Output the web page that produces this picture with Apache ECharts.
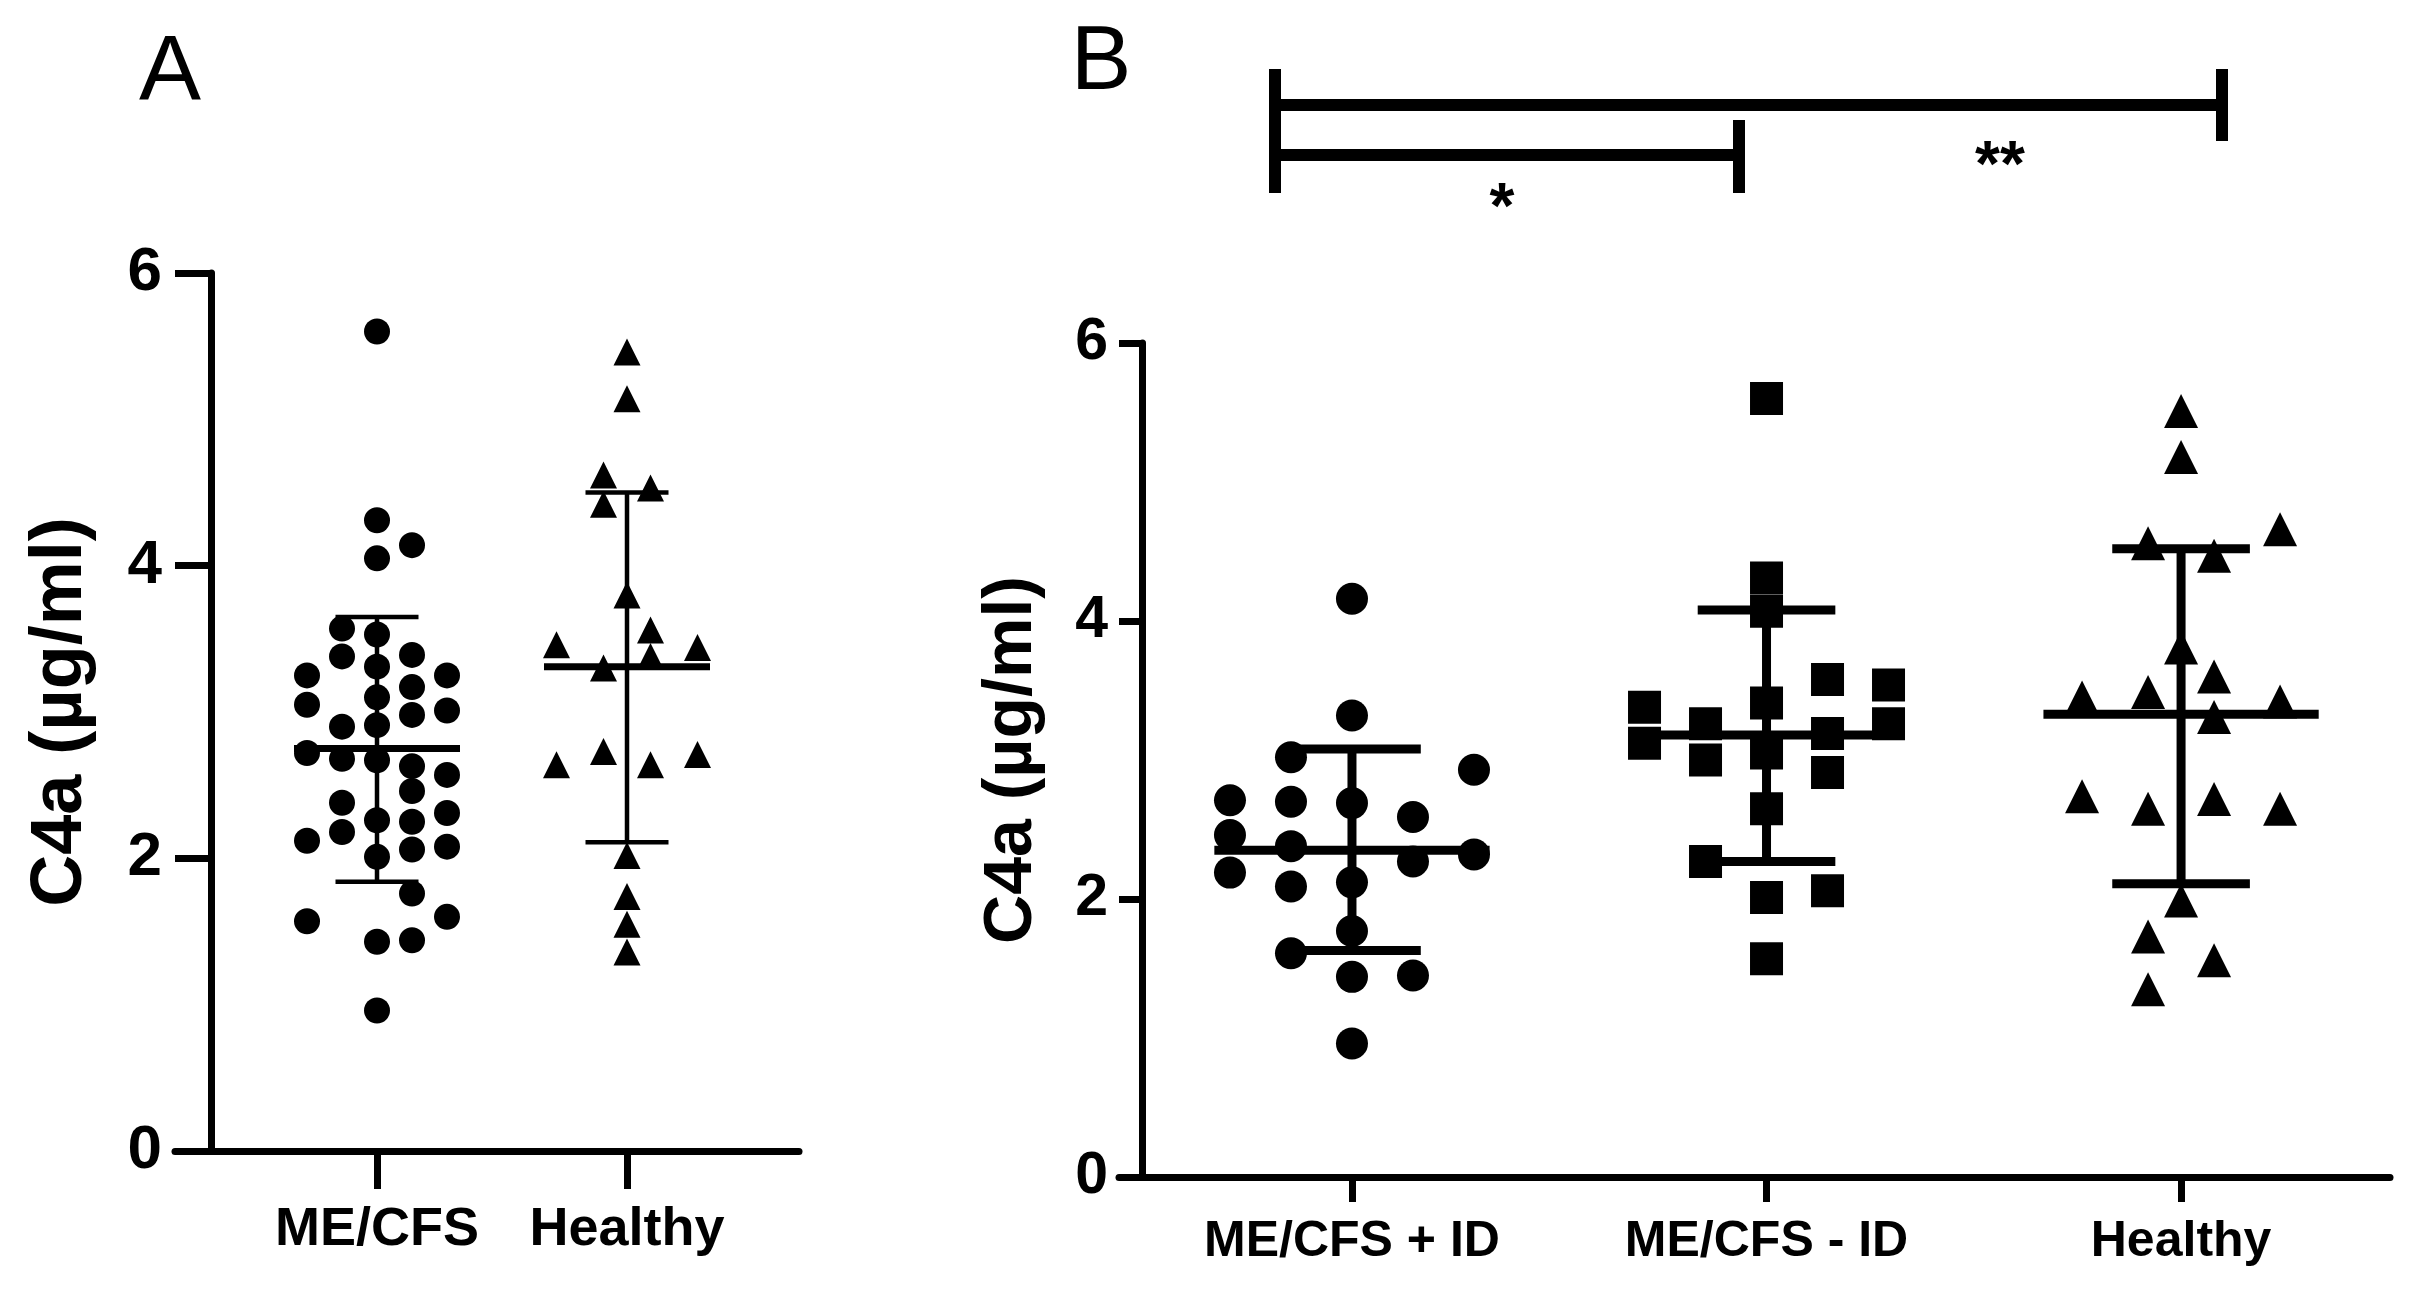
<!DOCTYPE html>
<html>
<head>
<meta charset="utf-8">
<script src="https://cdn.jsdelivr.net/npm/echarts@6/dist/echarts.min.js"></script>
<style>
html,body{margin:0;padding:0;background:#fff;}
#chart{width:2426px;height:1301px;}
</style>
</head>
<body>
<div id="chart"></div>
<script>
// ---------------- data ----------------
const categoriesA = ['ME/CFS', 'Healthy'];
const categoriesB = ['ME/CFS + ID', 'ME/CFS - ID', 'Healthy'];
const yTickValues = [0, 2, 4, 6];
const yAxisTitle = 'C4a (µg/ml)';

// Panel A — ME/CFS (circles): values and swarm column index
const meCfsA = [5.60,4.31,4.14,4.05,3.57,3.53,3.38,3.39,3.31,3.25,3.25,3.17,3.10,3.05,3.01,2.98,2.90,2.91,2.72,2.68,2.67,2.63,2.57,2.46,2.38,2.26,2.31,2.18,2.25,2.12,2.08,2.06,2.01,1.76,1.60,1.57,1.44,1.43,0.96];
const meCfsAColumn = [0,0,1,0,-1,0,-1,1,0,-2,2,1,0,-2,2,1,-1,0,-2,-1,0,1,2,1,-1,0,2,-1,1,-2,2,1,0,1,2,-2,1,0,0];
// Panel A — Healthy (triangles)
const healthyA = [5.46,5.14,4.62,4.53,4.42,3.80,3.56,3.46,3.44,3.38,3.30,2.73,2.71,2.64,2.64,2.02,1.74,1.55,1.36];
const healthyAColumn = [0,0,-1,1,-1,0,1,-3,3,1,-1,-1,3,-3,1,0,0,0,0];
// Panel A summary: mean, mean-SD, mean+SD
const meanA = [2.75, 3.31];
const sdLowA = [1.84, 2.11];
const sdHighA = [3.65, 4.50];

// Panel B — ME/CFS + ID (circles)
const plusIdB = [4.16,3.32,3.02,2.93,2.71,2.70,2.69,2.59,2.46,2.38,2.32,2.27,2.19,2.09,2.12,1.77,1.61,1.44,1.45,0.96];
const plusIdBColumn = [0,0,-1,2,-2,-1,0,1,-2,-1,2,1,-2,-1,0,0,-1,0,1,0];
// Panel B — ME/CFS - ID (squares)
const minusIdB = [5.60,4.31,4.07,3.41,3.05,2.65,2.01,1.57,3.38,3.12,3.26,3.00,2.27,3.58,3.19,2.91,2.06,3.54,3.26];
const minusIdBColumn = [0,0,0,0,0,0,0,0,-2,-2,-1,-1,-1,1,1,1,1,2,2];
// Panel B — Healthy (triangles)
const healthyB = [5.51,5.18,4.66,4.56,4.47,3.81,3.60,3.45,3.49,3.42,3.31,2.74,2.72,2.65,2.65,1.99,1.73,1.56,1.35];
const healthyBColumn = [0,0,3,-1,1,0,1,-3,-1,3,1,-3,1,-1,3,0,-1,1,-1];
// Panel B summary
const meanB = [2.35, 3.18, 3.33];
const sdLowB = [1.63, 2.27, 2.11];
const sdHighB = [3.08, 4.08, 4.52];

// ---------------- layout ----------------
const W = 2426, H = 1301;
const gA = {left: 175, right: W - 799, top: 273, bottom: H - 1151};
const gB = {left: 1119, right: W - 2390, top: 343, bottom: H - 1177};
const xMinA = -0.808, xMaxA = 1.688;
const xMinB = -0.562, xMaxB = 2.504;
const pxPerUnitA = (W - gA.left - gA.right) / (xMaxA - xMinA);
const pxPerUnitB = (W - gB.left - gB.right) / (xMaxB - xMinB);
const FONT = '"Liberation Sans", Arial, Helvetica, sans-serif';

function swarm(values, cols, catIndex, stepPx, pxPerUnit) {
  return values.map((v, i) => [catIndex + cols[i] * stepPx / pxPerUnit, v]);
}
function summary(means, lows, highs) {
  return means.map((m, i) => [i, m, lows[i], highs[i]]);
}
function errorBarRenderer(meanWidth, barWidth) {
  return function (params, api) {
    const x = api.value(0);
    const c = api.coord([x, api.value(1)]);
    const lo = api.coord([x, api.value(2)]);
    const hi = api.coord([x, api.value(3)]);
    const unit = api.size([1, 0])[0];
    const mh = 0.332 * unit, ch = 0.166 * unit;
    const st = {stroke: '#000', lineWidth: barWidth};
    return {
      type: 'group',
      children: [
        {type: 'line', shape: {x1: c[0] - mh, y1: c[1], x2: c[0] + mh, y2: c[1]}, style: {stroke: '#000', lineWidth: meanWidth}},
        {type: 'line', shape: {x1: c[0], y1: lo[1], x2: c[0], y2: hi[1]}, style: st},
        {type: 'line', shape: {x1: c[0] - ch, y1: lo[1], x2: c[0] + ch, y2: lo[1]}, style: st},
        {type: 'line', shape: {x1: c[0] - ch, y1: hi[1], x2: c[0] + ch, y2: hi[1]}, style: st}
      ]
    };
  };
}
function xAxisCfg(gridIndex, min, max, cats, tickLen, fontSize, margin) {
  const idx = cats.map((_, i) => i);
  return {
    gridIndex, type: 'value', min, max,
    axisLine: {show: true, onZero: false, lineStyle: {color: '#000', width: 7}},
    axisTick: {show: true, customValues: idx, length: tickLen, lineStyle: {color: '#000', width: 7}},
    axisLabel: {show: true, customValues: idx, margin, color: '#000', fontSize, fontWeight: 'bold', fontFamily: FONT,
      formatter: v => cats[Math.round(v)]},
    splitLine: {show: false}
  };
}
function yAxisCfg(gridIndex, offset, tickLen, fontSize, margin, nameSize, nameGap) {
  return {
    gridIndex, type: 'value', min: 0, max: 6, interval: 2, offset,
    name: yAxisTitle, nameLocation: 'middle', nameGap,
    nameTextStyle: {fontSize: nameSize, fontWeight: 'bold', color: '#000', fontFamily: FONT},
    axisLine: {show: true, onZero: false, lineStyle: {color: '#000', width: 7}},
    axisTick: {show: true, length: tickLen, lineStyle: {color: '#000', width: 7}},
    axisLabel: {margin, color: '#000', fontSize, fontWeight: 'bold', fontFamily: FONT,
      formatter: v => (yTickValues.indexOf(v) >= 0 ? String(v) : '')},
    splitLine: {show: false}
  };
}
function scatter(xi, yi, data, symbol, size) {
  return {type: 'scatter', xAxisIndex: xi, yAxisIndex: yi, data, symbol, symbolSize: size,
    itemStyle: {color: '#000', opacity: 1}, silent: true, clip: false, z: 3};
}

const chart = echarts.init(document.getElementById('chart'), null, {renderer: 'canvas'});

const bracketStyle = {stroke: '#000', lineWidth: 12};
const option = {
  backgroundColor: '#fff',
  animation: false,
  grid: [
    {left: gA.left, right: gA.right, top: gA.top, bottom: gA.bottom, containLabel: false},
    {left: gB.left, right: gB.right, top: gB.top, bottom: gB.bottom, containLabel: false}
  ],
  xAxis: [
    xAxisCfg(0, xMinA, xMaxA, categoriesA, 38, 54, 52),
    xAxisCfg(1, xMinB, xMaxB, categoriesB, 25, 50, 40)
  ],
  yAxis: [
    yAxisCfg(0, -36, 36, 62, 49, 72, 114),
    yAxisCfg(1, -23, 23, 59, 34, 68, 96)
  ],
  series: [
    {type: 'custom', xAxisIndex: 0, yAxisIndex: 0, data: summary(meanA, sdLowA, sdHighA),
      renderItem: errorBarRenderer(7, 4.5), encode: {x: 0, y: 1}, clip: false, silent: true, z: 2},
    scatter(0, 0, swarm(meCfsA, meCfsAColumn, 0, 35, pxPerUnitA), 'circle', 26),
    scatter(0, 0, swarm(healthyA, healthyAColumn, 1, 23.5, pxPerUnitA), 'triangle', 27),
    {type: 'custom', xAxisIndex: 1, yAxisIndex: 1, data: summary(meanB, sdLowB, sdHighB),
      renderItem: errorBarRenderer(9, 9), encode: {x: 0, y: 1}, clip: false, silent: true, z: 4},
    scatter(1, 1, swarm(plusIdB, plusIdBColumn, 0, 61, pxPerUnitB), 'circle', 32),
    scatter(1, 1, swarm(minusIdB, minusIdBColumn, 1, 61, pxPerUnitB), 'rect', 33),
    scatter(1, 1, swarm(healthyB, healthyBColumn, 2, 33, pxPerUnitB), 'triangle', 34)
  ],
  graphic: [
    {type: 'text', x: 170, y: 74, style: {text: 'A', font: '93px ' + FONT, fill: '#000', align: 'center', verticalAlign: 'middle'}},
    {type: 'text', x: 1101, y: 64, style: {text: 'B', font: '91px ' + FONT, fill: '#000', align: 'center', verticalAlign: 'middle'}},
    // significance brackets
    {type: 'line', shape: {x1: 1275, y1: 69, x2: 1275, y2: 193}, style: bracketStyle},
    {type: 'line', shape: {x1: 1275, y1: 105, x2: 2222, y2: 105}, style: bracketStyle},
    {type: 'line', shape: {x1: 2222, y1: 69, x2: 2222, y2: 141}, style: bracketStyle},
    {type: 'line', shape: {x1: 1275, y1: 155, x2: 1739, y2: 155}, style: bracketStyle},
    {type: 'line', shape: {x1: 1739, y1: 120, x2: 1739, y2: 193}, style: bracketStyle},
    {type: 'text', x: 1502, y: 210, style: {text: '*', font: 'bold 64px ' + FONT, fill: '#000', align: 'center', verticalAlign: 'middle'}},
    {type: 'text', x: 2000, y: 168, style: {text: '**', font: 'bold 64px ' + FONT, fill: '#000', align: 'center', verticalAlign: 'middle'}}
  ]
};
chart.setOption(option);
</script>
</body>
</html>
